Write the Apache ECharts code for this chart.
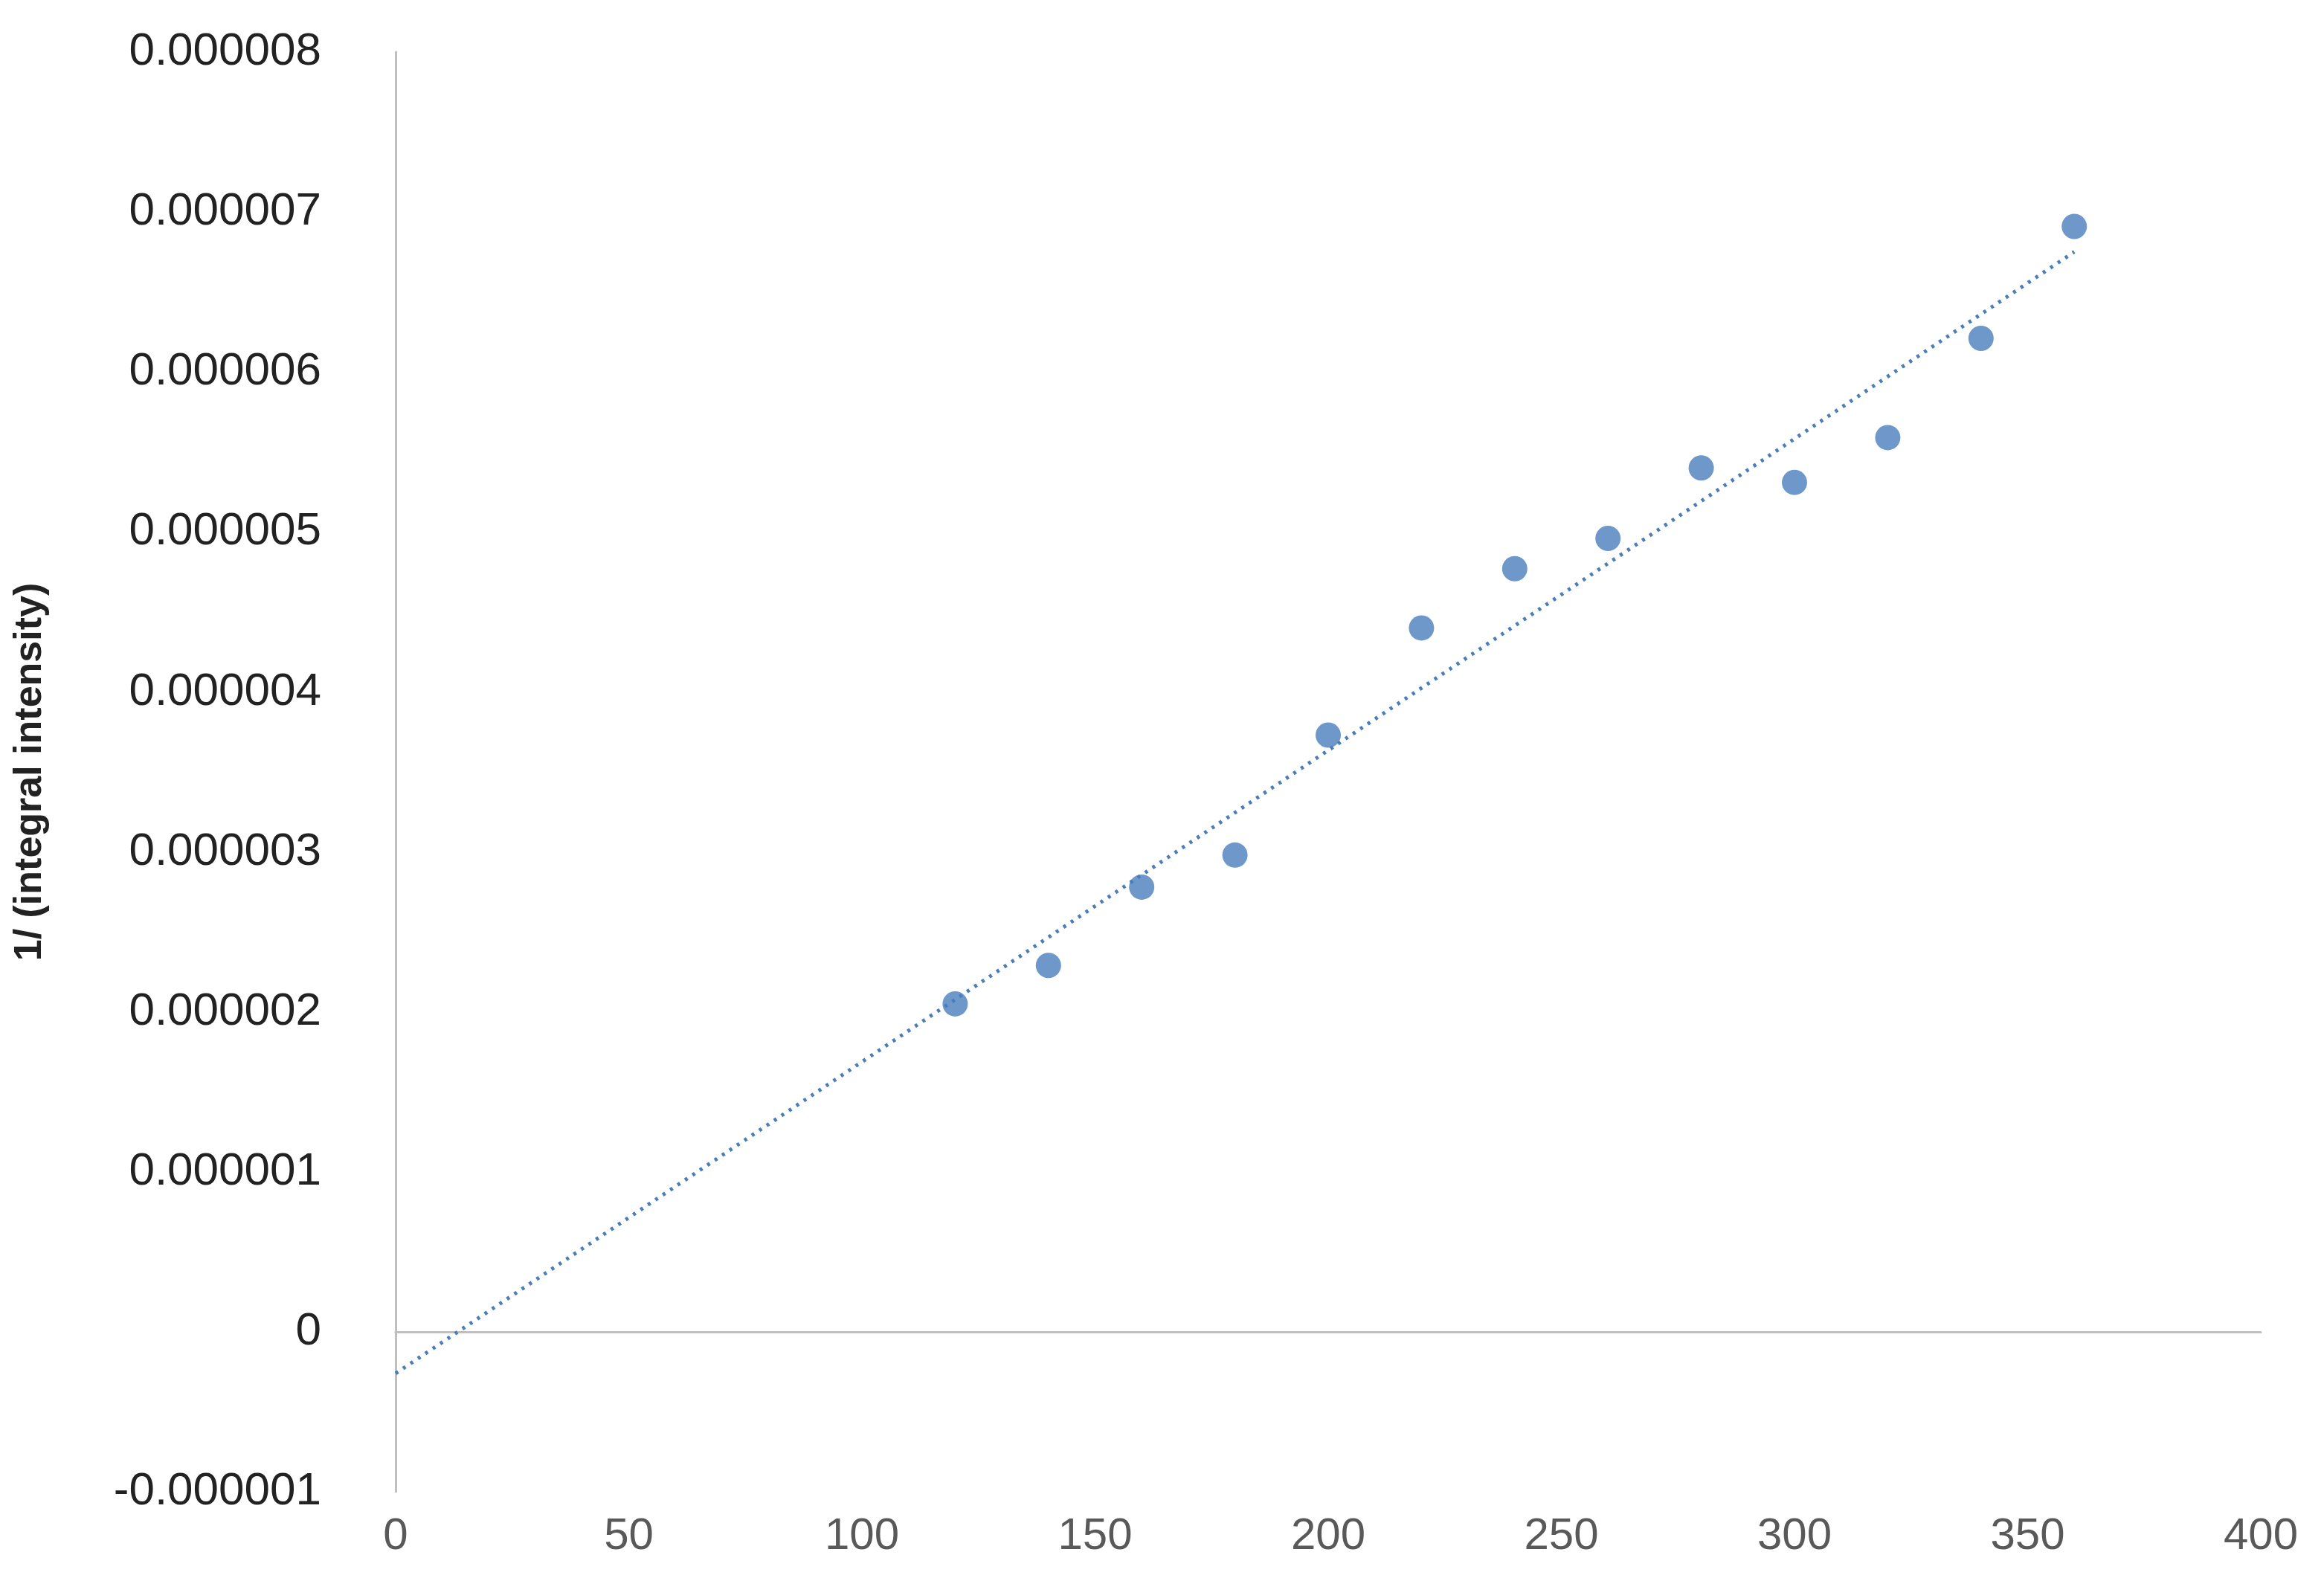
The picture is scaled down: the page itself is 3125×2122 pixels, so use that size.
<!DOCTYPE html>
<html>
<head>
<meta charset="utf-8">
<script src="https://cdn.jsdelivr.net/npm/echarts@6/dist/echarts.min.js"></script>
<style>html,body{margin:0;background:#fff}#chart{width:3125px;height:2122px}</style>
</head>
<body>
<div id="chart"></div>
<script>
var temps = [120, 140, 160, 180, 200, 220, 240, 260, 280, 300, 320, 340, 360];
var invIntensity = [2.05e-6, 2.29e-6, 2.78e-6, 2.98e-6, 3.73e-6, 4.40e-6, 4.77e-6, 4.96e-6, 5.40e-6, 5.31e-6, 5.59e-6, 6.21e-6, 6.91e-6];

// least-squares trendline, drawn from 0 to the last point
var n = temps.length, sx = 0, sy = 0, sxx = 0, sxy = 0;
for (var i = 0; i < n; i++) {
    sx += temps[i]; sy += invIntensity[i];
    sxx += temps[i] * temps[i]; sxy += temps[i] * invIntensity[i];
}
var slope = (n * sxy - sx * sy) / (n * sxx - sx * sx);
var icpt = (sy - slope * sx) / n;
var trend = [[0, icpt], [360, icpt + slope * 360]];

var chart = echarts.init(document.getElementById('chart'));
chart.setOption({
    animation: false,
    grid: { left: 532, right: 85, top: 70, bottom: 116, outerBoundsMode: 'none', containLabel: false },
    xAxis: {
        type: 'value', min: 0, max: 400, interval: 50,
        name: 'T (K)', nameLocation: 'middle', nameGap: 250,
        nameTextStyle: { fontSize: 58, fontWeight: 'bold', color: '#222', fontFamily: 'Liberation Sans' },
        axisLine: { onZero: true, lineStyle: { color: '#bfbfbf', width: 3 } },
        axisTick: { show: false },
        splitLine: { show: false },
        axisLabel: { fontSize: 60, color: '#595959', margin: 30, fontFamily: 'Liberation Sans' }
    },
    yAxis: {
        type: 'value', min: -0.000001, max: 0.000008, interval: 0.000001,
        name: '1/ (integral intensity)', nameLocation: 'middle', nameGap: 465,
        nameTextStyle: { fontSize: 52, fontWeight: 'bold', color: '#222', fontFamily: 'Liberation Sans' },
        axisLine: { show: true, lineStyle: { color: '#bfbfbf', width: 3 } },
        axisTick: { show: false },
        splitLine: { show: false },
        axisLabel: {
            fontSize: 62, color: '#222', margin: 100, fontFamily: 'Liberation Sans',
            formatter: function (v) {
                var r = Math.round(v * 1e6);
                return r === 0 ? '0' : (r / 1e6).toFixed(6);
            }
        }
    },
    series: [
        {
            type: 'line', data: trend, symbol: 'none',
            lineStyle: { color: '#4a7ebb', width: 5, type: [4, 8] }
        },
        {
            type: 'scatter', symbolSize: 34,
            itemStyle: { color: '#4a7ebb' },
            data: temps.map(function (t, i) { return [t, invIntensity[i]]; })
        }
    ]
});
</script>
</body>
</html>
